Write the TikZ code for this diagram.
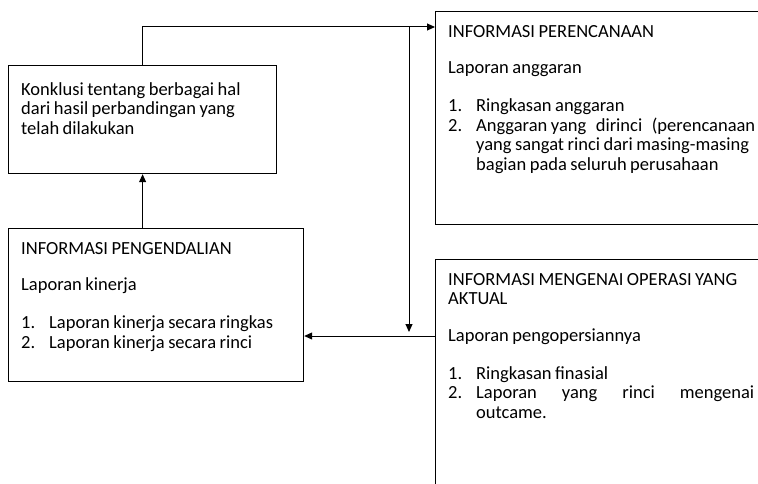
\documentclass[tikz,border=0pt]{standalone}
\usepackage{fontspec}
\setmainfont{Carlito}
\usetikzlibrary{arrows.meta}
\tikzset{%
    kotak/.style={draw,line width=1.2pt,inner sep=0pt,anchor=north west},
    isi/.style={inner sep=0pt,anchor=north west,align=left,text width=330pt,
        font=\fontsize{18.5}{19.5}\selectfont,
        execute at begin node={\spaceskip=3.5pt plus 2pt minus 1pt\relax}},
    panah/.style={line width=1pt,-{Triangle[length=8pt,width=7pt]}}
}
\newcommand{\butir}[2]{\makebox[28pt][l]{#1}#2}

\begin{document}
\begin{tikzpicture}[x=1pt,y=-1pt]
        \useasboundingbox (0,0) rectangle (758,484);
        \clip (0,0) rectangle (758,484);

        \node[kotak,minimum width=268pt,minimum height=108pt] (konklusi) at (8,65){};
        \node[kotak,minimum width=400pt,minimum height=213pt] (perencanaan) at (435,11){};
        \node[kotak,minimum width=295pt,minimum height=153pt] (pengendalian) at (8,228){};
        \node[kotak,minimum width=400pt,minimum height=300pt] (operasi) at (435,259){};

        \node[isi] (tkonklusi) at ([shift={(13pt,-17pt)}]konklusi.north west)
            {Konklusi tentang berbagai hal\\dari hasil perbandingan yang\\telah dilakukan};
        \node[isi] (tperencanaan) at ([shift={(13pt,-14pt)}]perencanaan.north west)
            {INFORMASI PERENCANAAN\\[17pt]
             Laporan anggaran\\[18.5pt]
             \butir{1.}{Ringkasan anggaran}\\
             \butir{2.}{\makebox[279pt][l]{Anggaran yang\hfill dirinci\hfill (perencanaan}}\\
             \hspace*{28pt}yang sangat rinci dari masing-masing\\
             \hspace*{28pt}bagian pada seluruh perusahaan};
        \node[isi] (tpengendalian) at ([shift={(13pt,-14pt)}]pengendalian.north west)
            {INFORMASI PENGENDALIAN\\[17pt]
             Laporan kinerja\\[18.5pt]
             \butir{1.}{Laporan kinerja secara ringkas}\\
             \butir{2.}{Laporan kinerja secara rinci}};
        \node[isi] (toperasi) at ([shift={(13pt,-14pt)}]operasi.north west)
            {INFORMASI MENGENAI OPERASI YANG\\AKTUAL\\[17pt]
             Laporan pengopersiannya\\[18.5pt]
             \butir{1.}{Ringkasan finasial}\\
             \butir{2.}{\makebox[278pt][l]{Laporan\hfill yang\hfill rinci\hfill mengenai}}\\
             \hspace*{28pt}outcame.};

        \coordinate (simpang) at (409,27);
        \coordinate (ujung) at (409,332);
        \coordinate (sambung) at (0,336);
        \draw[panah] (konklusi.north) |- (perencanaan.west |- simpang);
        \draw[panah] (simpang) -- (ujung);
        \draw[panah] (operasi.west |- sambung) -- (pengendalian.east |- sambung);
        \draw[panah] (konklusi.south |- pengendalian.north) -- (konklusi.south);
    \end{tikzpicture}
\end{document}
